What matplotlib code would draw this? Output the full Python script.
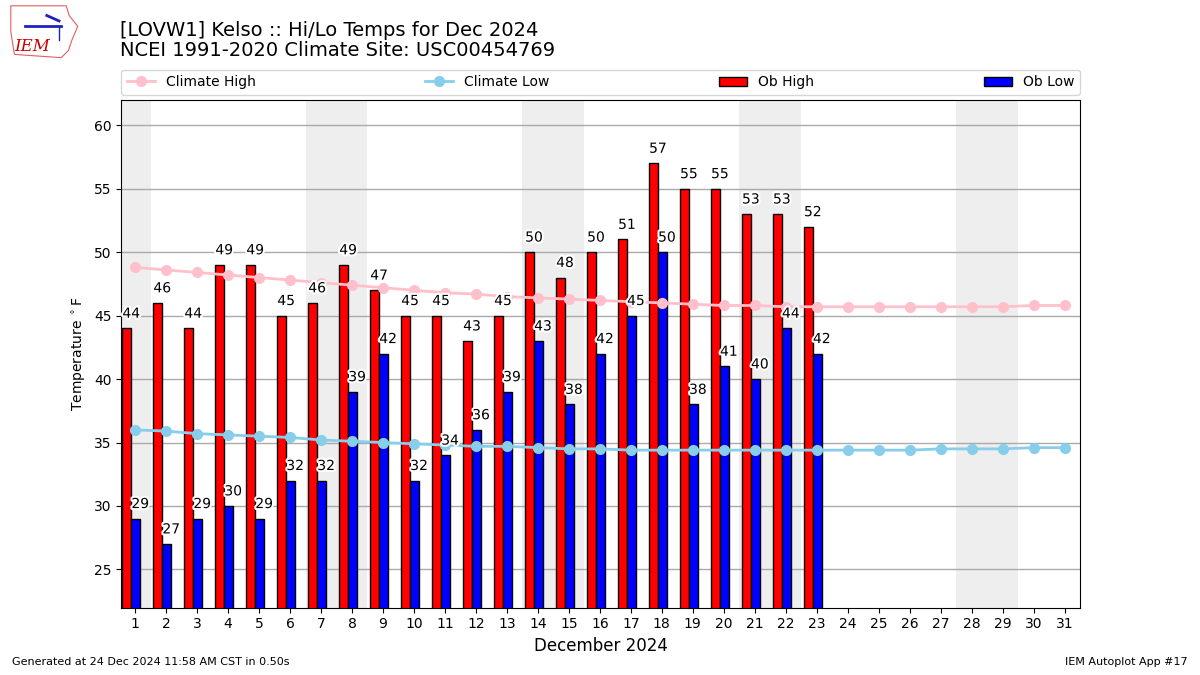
import numpy as np
import matplotlib
matplotlib.use('Agg')
from matplotlib import pyplot as plt
from matplotlib.patches import Polygon
import matplotlib.patheffects as pe

days = list(range(1, 32))
ob_high = [44, 46, 44, 49, 49, 45, 46, 49, 47, 45, 45, 43, 45, 50, 48, 50,
           51, 57, 55, 55, 53, 53, 52]
ob_low = [29, 27, 29, 30, 29, 32, 32, 39, 42, 32, 34, 36, 39, 43, 38, 42,
          45, 50, 38, 41, 40, 44, 42]
clim_high = [48.8, 48.6, 48.4, 48.2, 48.0, 47.8, 47.6, 47.4, 47.2, 47.0, 46.8,
             46.7, 46.5, 46.4, 46.3, 46.2, 46.1, 46.0, 45.9, 45.8, 45.8, 45.7,
             45.7, 45.7, 45.7, 45.7, 45.7, 45.7, 45.7, 45.8, 45.8]
clim_low = [36.0, 35.9, 35.7, 35.6, 35.5, 35.4, 35.2, 35.1, 35.0, 34.9, 34.8,
            34.7, 34.7, 34.6, 34.5, 34.5, 34.4, 34.4, 34.4, 34.4, 34.4, 34.4,
            34.4, 34.4, 34.4, 34.4, 34.5, 34.5, 34.5, 34.6, 34.6]
weekends = [(1, 1), (7, 8), (14, 15), (21, 22), (28, 29)]

fig = plt.figure(figsize=(12, 6.75), dpi=100)
ax = fig.add_axes([0.101, 0.1, 0.799, 0.752])

for a, b in weekends:
    ax.axvspan(a - 0.5, b + 0.5, color='#eeeeee', zorder=0, lw=0)

ax.plot(days, clim_high, color='pink', marker='o', ms=7, lw=2,
        label='Climate High', zorder=3)
ax.plot(days, clim_low, color='skyblue', marker='o', ms=7, lw=2,
        label='Climate Low', zorder=3)

obx = np.arange(1, len(ob_high) + 1)
ax.bar(obx - 0.265, ob_high, width=0.29, color='r', edgecolor='k', lw=1,
       label='Ob High', zorder=2)
ax.bar(obx + 0.025, ob_low, width=0.29, color='b', edgecolor='k', lw=1,
       label='Ob Low', zorder=2)

fx = [pe.withStroke(linewidth=3, foreground='white')]
for x, v in zip(obx, ob_high):
    ax.text(x - 0.41, v + 0.6, str(v), ha='left', va='bottom', fontsize=10,
            path_effects=fx, zorder=4)
for x, v in zip(obx, ob_low):
    ax.text(x - 0.12, v + 0.6, str(v), ha='left', va='bottom', fontsize=10,
            path_effects=fx, zorder=4)

ax.set_xlim(0.55, 31.5)
ax.set_ylim(22, 62)
ax.set_xticks(days)
ax.grid(axis='y', color='#aaaaaa', lw=1, zorder=1)
ax.set_axisbelow(True)
ax.set_ylabel(r'Temperature $^\circ$F')
ax.set_xlabel('December 2024', fontsize=12)

ax.legend(loc='lower left', bbox_to_anchor=(0, 1.01, 1, 0.05), mode='expand',
          ncol=4, fontsize=10, borderaxespad=0)

fig.text(0.1, 0.955, '[LOVW1] Kelso :: Hi/Lo Temps for Dec 2024', fontsize=14,
         va='center')
fig.text(0.1, 0.925, 'NCEI 1991-2020 Climate Site: USC00454769', fontsize=14,
         va='center')

fig.text(0.01, 0.012, 'Generated at 24 Dec 2024 11:58 AM CST in 0.50s',
         fontsize=8, va='bottom')
fig.text(0.99, 0.012, 'IEM Autoplot App #17', fontsize=8, va='bottom',
         ha='right')

# rough stand-in for the IEM logo
logo = fig.add_axes([0.006, 0.913, 0.06, 0.08])
logo.axis('off')
logo.set_xlim(0, 1)
logo.set_ylim(0, 1)
outline = [(0.05, 0.98), (0.82, 0.98), (0.86, 0.8), (0.98, 0.6), (0.9, 0.35),
           (0.85, 0.15), (0.75, 0.02), (0.1, 0.08), (0.05, 0.5)]
logo.add_patch(Polygon(outline, closed=True, fill=False, ec='#e06060', lw=0.8))
logo.text(0.35, 0.22, 'IEM', color='#cc0000', fontsize=12, family='serif',
          style='italic', ha='center', va='center')
logo.plot([0.25, 0.75], [0.6, 0.6], color='#2020c0', lw=2)
logo.plot([0.55, 0.72], [0.8, 0.7], color='#2020c0', lw=2)
logo.plot([0.72, 0.72], [0.6, 0.35], color='#2020c0', lw=1)

fig.savefig('out.png', dpi=100)
